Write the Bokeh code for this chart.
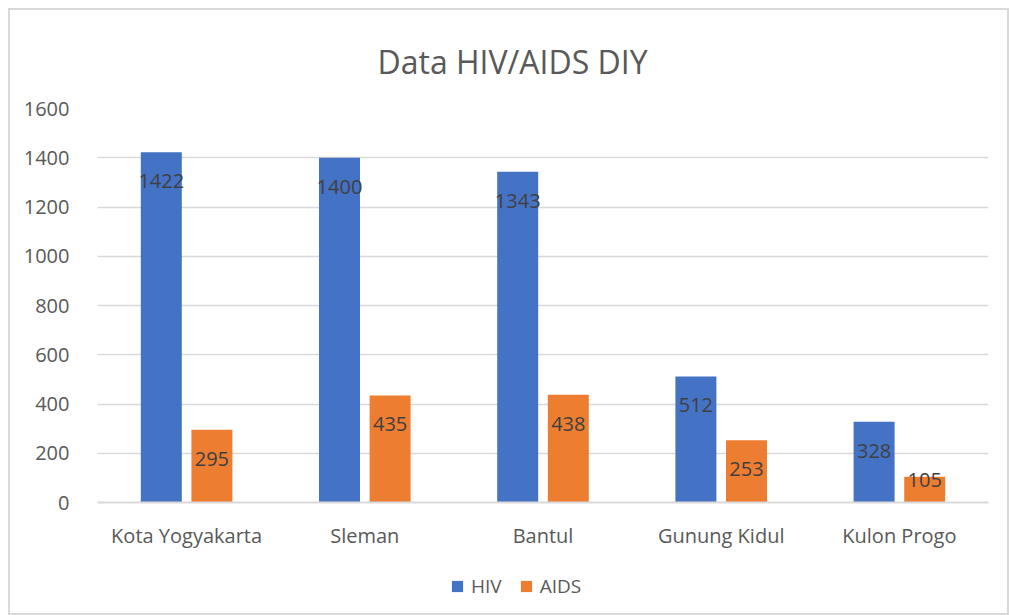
from bokeh.plotting import figure
from bokeh.layouts import column
from bokeh.models import FactorRange, Range1d, FixedTicker, Legend, LegendItem, ColumnDataSource
from bokeh.transform import dodge
from bokeh.core.properties import value
from bokeh.embed import file_html
from bokeh.resources import INLINE

regions = ["Kota Yogyakarta", "Sleman", "Bantul", "Gunung Kidul", "Kulon Progo"]
hiv = [1422, 1400, 1343, 512, 328]
aids = [295, 435, 438, 253, 105]
y_ticks = [0, 200, 400, 600, 800, 1000, 1200, 1400, 1600]
series = ["HIV", "AIDS"]
colors = ["#4472C4", "#ED7D31"]
title_text = "Data HIV/AIDS DIY"

FONT = "Open Sans"
GREY = "#595959"
GRID = "#d9d9d9"

def label_offset(v):
    # inside-end label; short bars get label near the top
    return 29 if v >= 200 else 3

src = ColumnDataSource(dict(
    region=regions, hiv=hiv, aids=aids,
    hiv_lbl=[str(v) for v in hiv], aids_lbl=[str(v) for v in aids],
    hiv_off=[label_offset(v) for v in hiv], aids_off=[label_offset(v) for v in aids],
))

p = figure(width=997, height=550,
           x_range=FactorRange(factors=regions), y_range=Range1d(0, 1600),
           output_backend="svg", toolbar_location=None,
           min_border_left=87, min_border_right=19, min_border_top=98, min_border_bottom=58)
p.outline_line_color = None
p.background_fill_color = "white"
p.border_fill_color = "white"

p.title.text = title_text
p.title.align = "left"
p.title.text_font = FONT
p.title.text_font_size = "32px"
p.title.text_font_style = "normal"
p.title.text_color = GREY
p.title.offset = 280
p.title.standoff = 52

keys = ["hiv", "aids"]
dxs = [-0.142, 0.142]
for key, dx, c in zip(keys, dxs, colors):
    p.vbar(x=dodge("region", dx, range=p.x_range), top=key, width=0.23,
           source=src, fill_color=c, line_color=None)
    p.text(x=dodge("region", dx, range=p.x_range), y=key, text=key + "_lbl",
           y_offset=key + "_off", source=src, text_align="center", text_baseline="middle",
           text_font=value(FONT), text_font_size=value("20px"), text_color="#404040")

p.ygrid.ticker = FixedTicker(ticks=y_ticks)
p.ygrid.grid_line_color = GRID
p.ygrid.grid_line_width = 1.5
p.xgrid.grid_line_color = None

p.yaxis.ticker = FixedTicker(ticks=y_ticks)
p.yaxis.axis_line_color = None
p.yaxis.major_tick_line_color = None
p.yaxis.minor_tick_line_color = None
p.yaxis.major_label_text_font = FONT
p.yaxis.major_label_text_font_size = "20px"
p.yaxis.major_label_text_color = GREY
p.yaxis.major_label_standoff = 22

p.xaxis.axis_line_color = GRID
p.xaxis.axis_line_width = 2
p.xaxis.major_tick_line_color = None
p.xaxis.minor_tick_line_color = None
p.xaxis.major_label_text_font = FONT
p.xaxis.major_label_text_font_size = "20px"
p.xaxis.major_label_text_color = GREY
p.xaxis.major_label_standoff = 13

# legend strip below the chart (hidden renderers only provide the legend swatches)
leg = figure(width=997, height=53, output_backend="svg", toolbar_location=None,
             x_range=FactorRange(factors=regions), y_range=Range1d(0, 1600),
             x_axis_location=None, y_axis_location=None, min_border=0)
leg.outline_line_color = None
leg.grid.visible = False
leg.border_fill_color = "white"
lr = [leg.vbar(x=dodge("region", dx, range=leg.x_range), top=k, width=0.23, source=src,
               fill_color=c, line_color=None, visible=False)
      for k, dx, c in zip(keys, dxs, colors)]
legend = Legend(items=[LegendItem(label=s, renderers=[r]) for s, r in zip(series, lr)],
                orientation="horizontal", location=(353, 14),
                glyph_width=14, glyph_height=14, label_standoff=7, spacing=17,
                padding=0, margin=0, border_line_color=None, background_fill_alpha=0,
                label_text_font=FONT, label_text_font_size="19px", label_text_color=GREY)
leg.add_layout(legend)

layout = column(p, leg, spacing=0,
                styles={"border": "2px solid #d9d9d9", "margin-left": "8px", "margin-top": "8px"})

open("out.html", "w").write(file_html(layout, INLINE))
